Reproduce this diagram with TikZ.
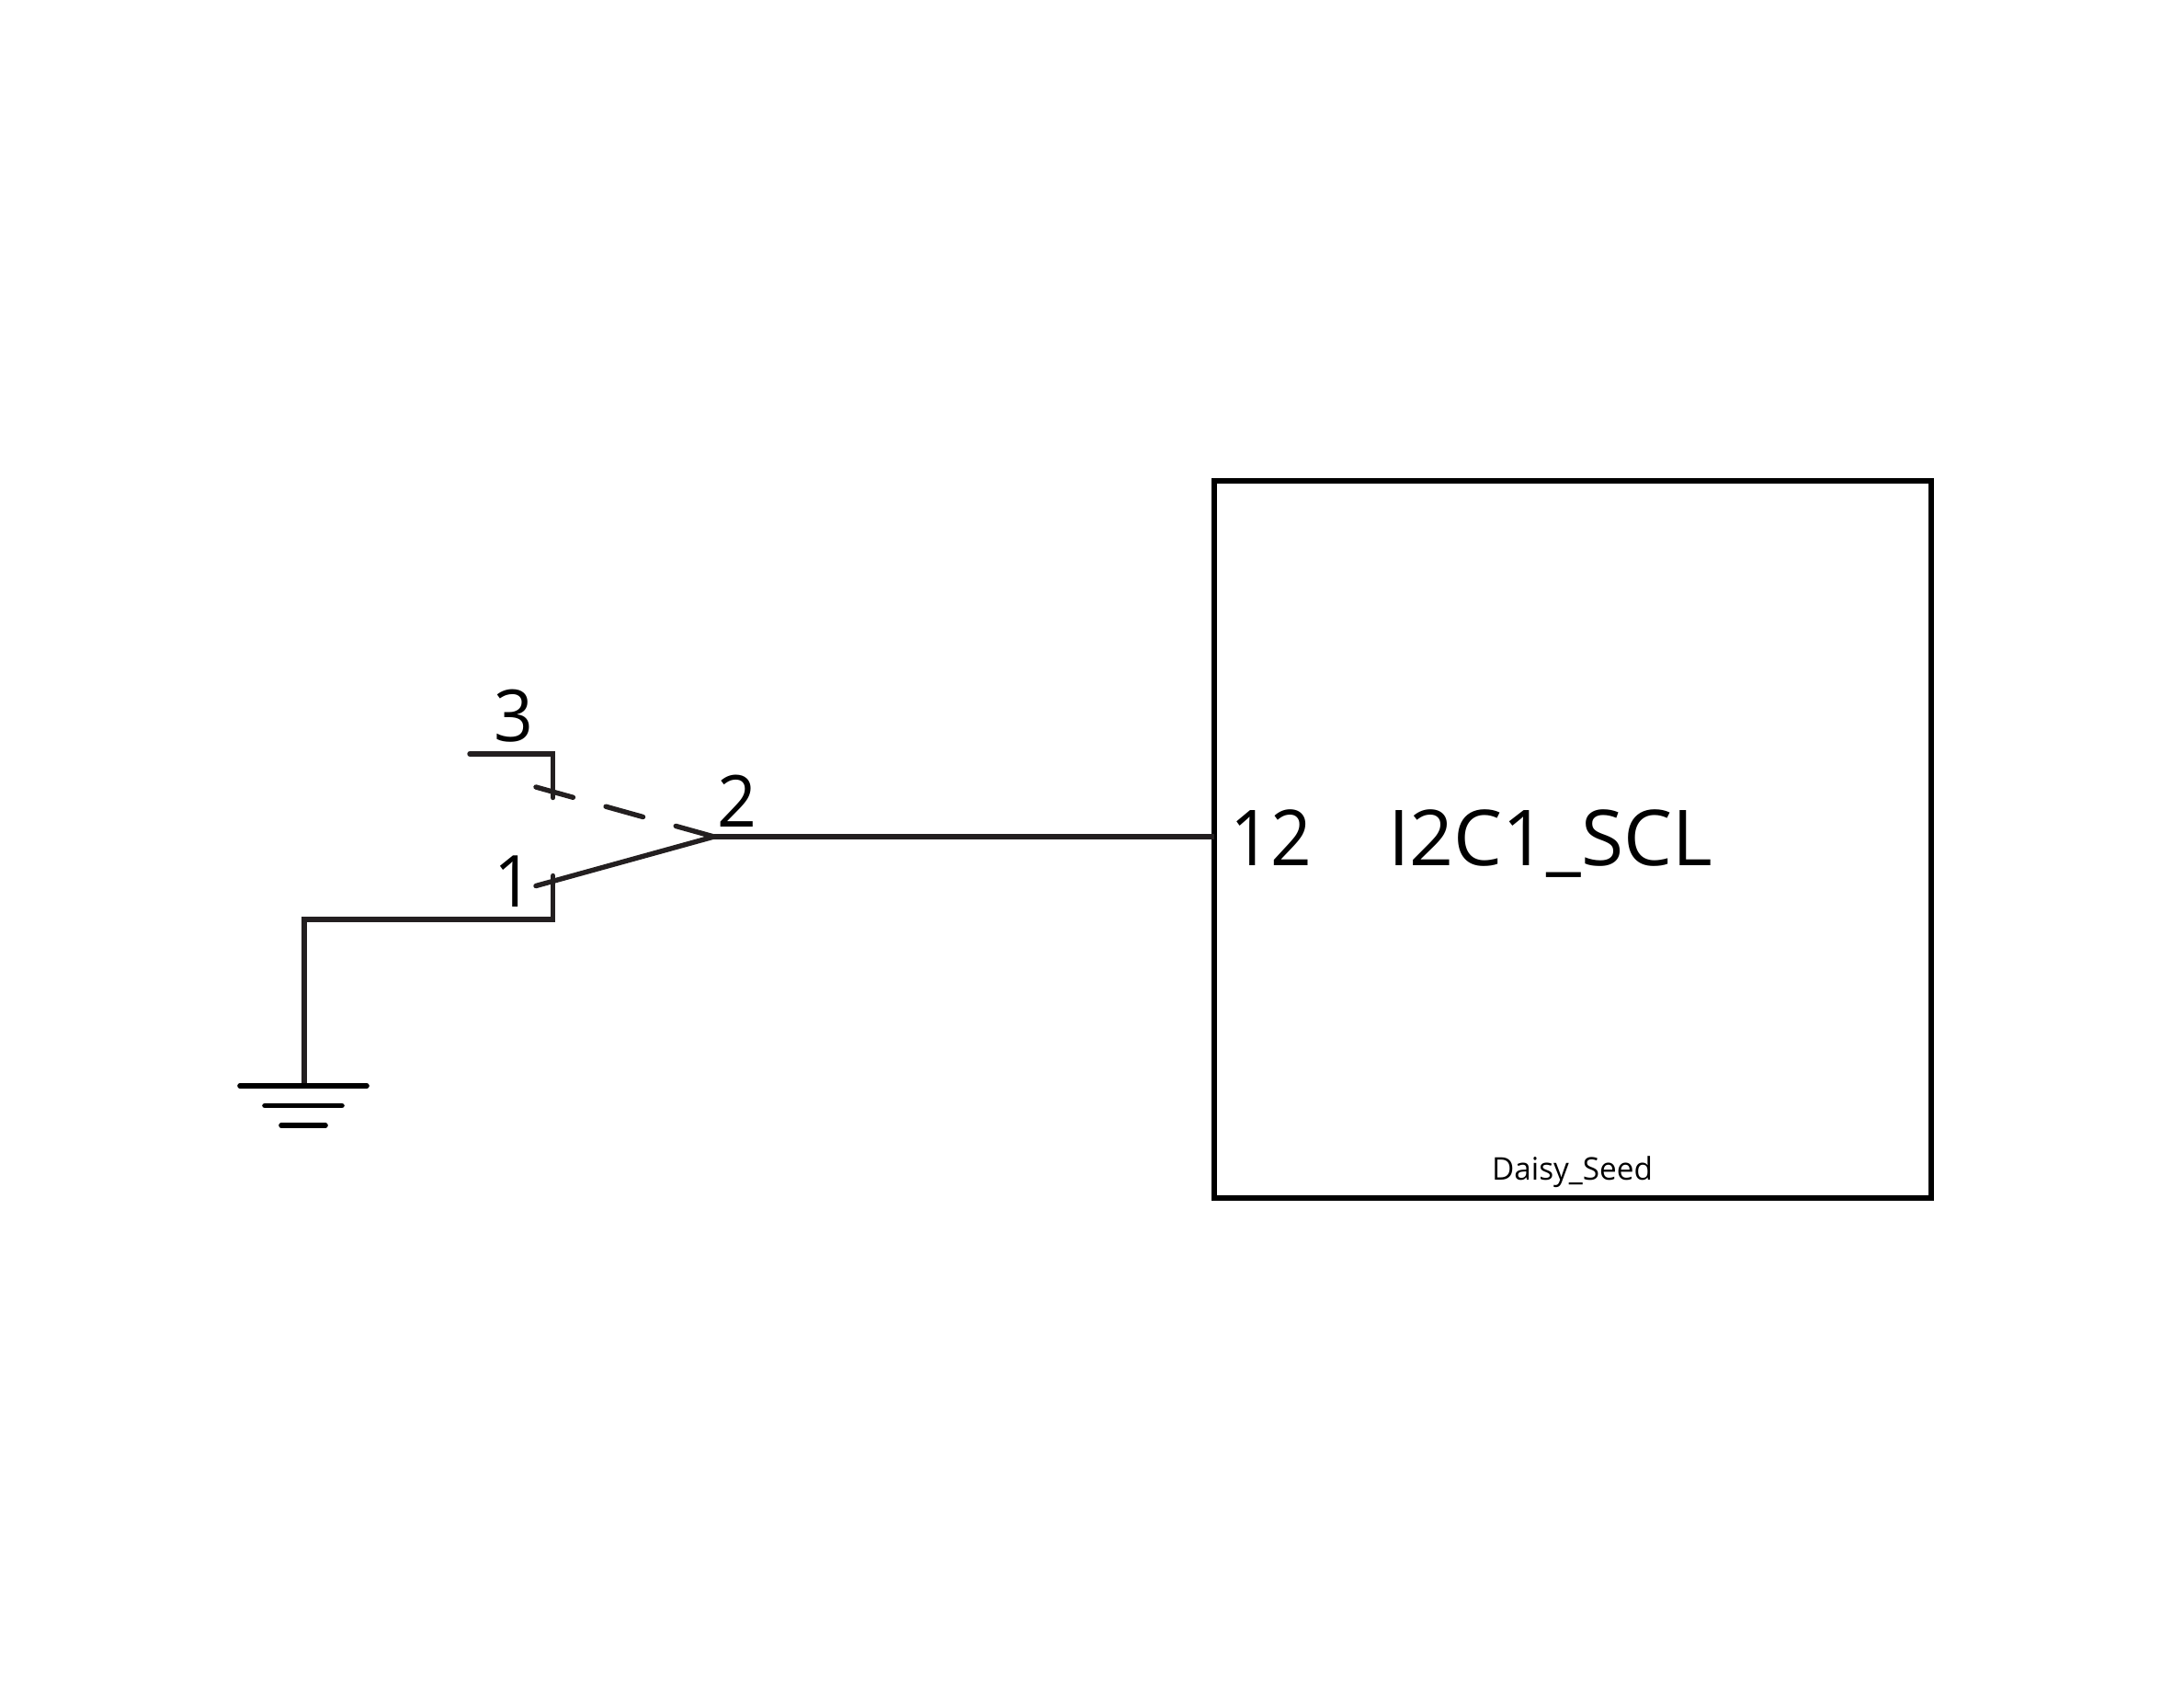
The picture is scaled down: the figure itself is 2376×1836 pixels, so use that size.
\documentclass[tikz,border=0pt]{standalone}
\usepackage{fontspec}
\setmainfont{Open Sans}
\definecolor{wire}{HTML}{231F20}
\tikzset{
  wireline/.style={draw=wire,line width=5.4pt,line cap=round,line join=miter},
  gndline/.style={draw=black,line width=5.6pt,line cap=round},
  blockbox/.style={draw=black,line width=5.5pt,minimum width=780pt,minimum height=780pt,inner sep=0pt,outer sep=0pt},
  pinnum/.style={inner sep=0pt,outer sep=0pt,anchor=base west,text=black,font=\fontsize{78}{78}\selectfont,xscale=0.96},
  bignum/.style={inner sep=0pt,outer sep=0pt,anchor=base west,text=black,font=\fontsize{84}{84}\selectfont,xscale=0.93},
  bigtext/.style={inner sep=0pt,outer sep=0pt,anchor=base west,text=black,font=\fontsize{84}{84}\selectfont,xscale=1.0},
  smalltext/.style={inner sep=0pt,outer sep=0pt,anchor=base west,text=black,font=\fontsize{34}{34}\selectfont,xscale=0.98}
}
\begin{document}
\begin{tikzpicture}[x=1pt,y=-1pt]
\useasboundingbox (0,0) rectangle (2376,1836);
\fill[white] (0,0) rectangle (2376,1836);
\node[blockbox] (seed) at (1711,913) {};
\coordinate (pinL) at (seed.west |- 0,910);
\coordinate (com) at (776.7,910);
\coordinate (c3end) at (511,820);
\coordinate (c3top) at (601.7,820);
\coordinate (c3bot) at (601.7,867.5);
\coordinate (t3) at (583,856);
\coordinate (t1) at (583,963.5);
\coordinate (c1top) at (601.7,952.5);
\coordinate (c1bot) at (601.7,1000);
\coordinate (gc) at (331,1000);
\coordinate (gt) at (331,1181);
\coordinate (g1l) at (261,1181);\coordinate (g1r) at (399,1181);
\coordinate (g2l) at (288,1202.5);\coordinate (g2r) at (372,1202.5);
\coordinate (g3l) at (306,1224);\coordinate (g3r) at (354,1224);
\draw[wireline] (c3end) -- (c3top) -- (c3bot);
\draw[wireline,dash pattern=on 42pt off 37pt] (t3) -- (com);
\draw[wireline] (t1) -- (com);
\draw[wireline,line cap=butt] (com) -- (pinL);
\draw[wireline] (c1top) -- (c1bot) -- (gc) -- (gt);
\draw[gndline] (g1l) -- (g1r);
\draw[gndline] (g2l) -- (g2r);
\draw[gndline] (g3l) -- (g3r);
\node[pinnum] (n3) at (537,806) {3};
\node[pinnum] (n1) at (537,986) {1};
\node[pinnum] (n2) at (780,899) {2};
\node[bignum] (n12) at (1338,941) {12};
\node[bigtext] (nscl) at (1510,941) {I2C1\_SCL};
\node[smalltext] (ndaisy) at (1623,1283) {Daisy\_Seed};
\end{tikzpicture}
\end{document}
